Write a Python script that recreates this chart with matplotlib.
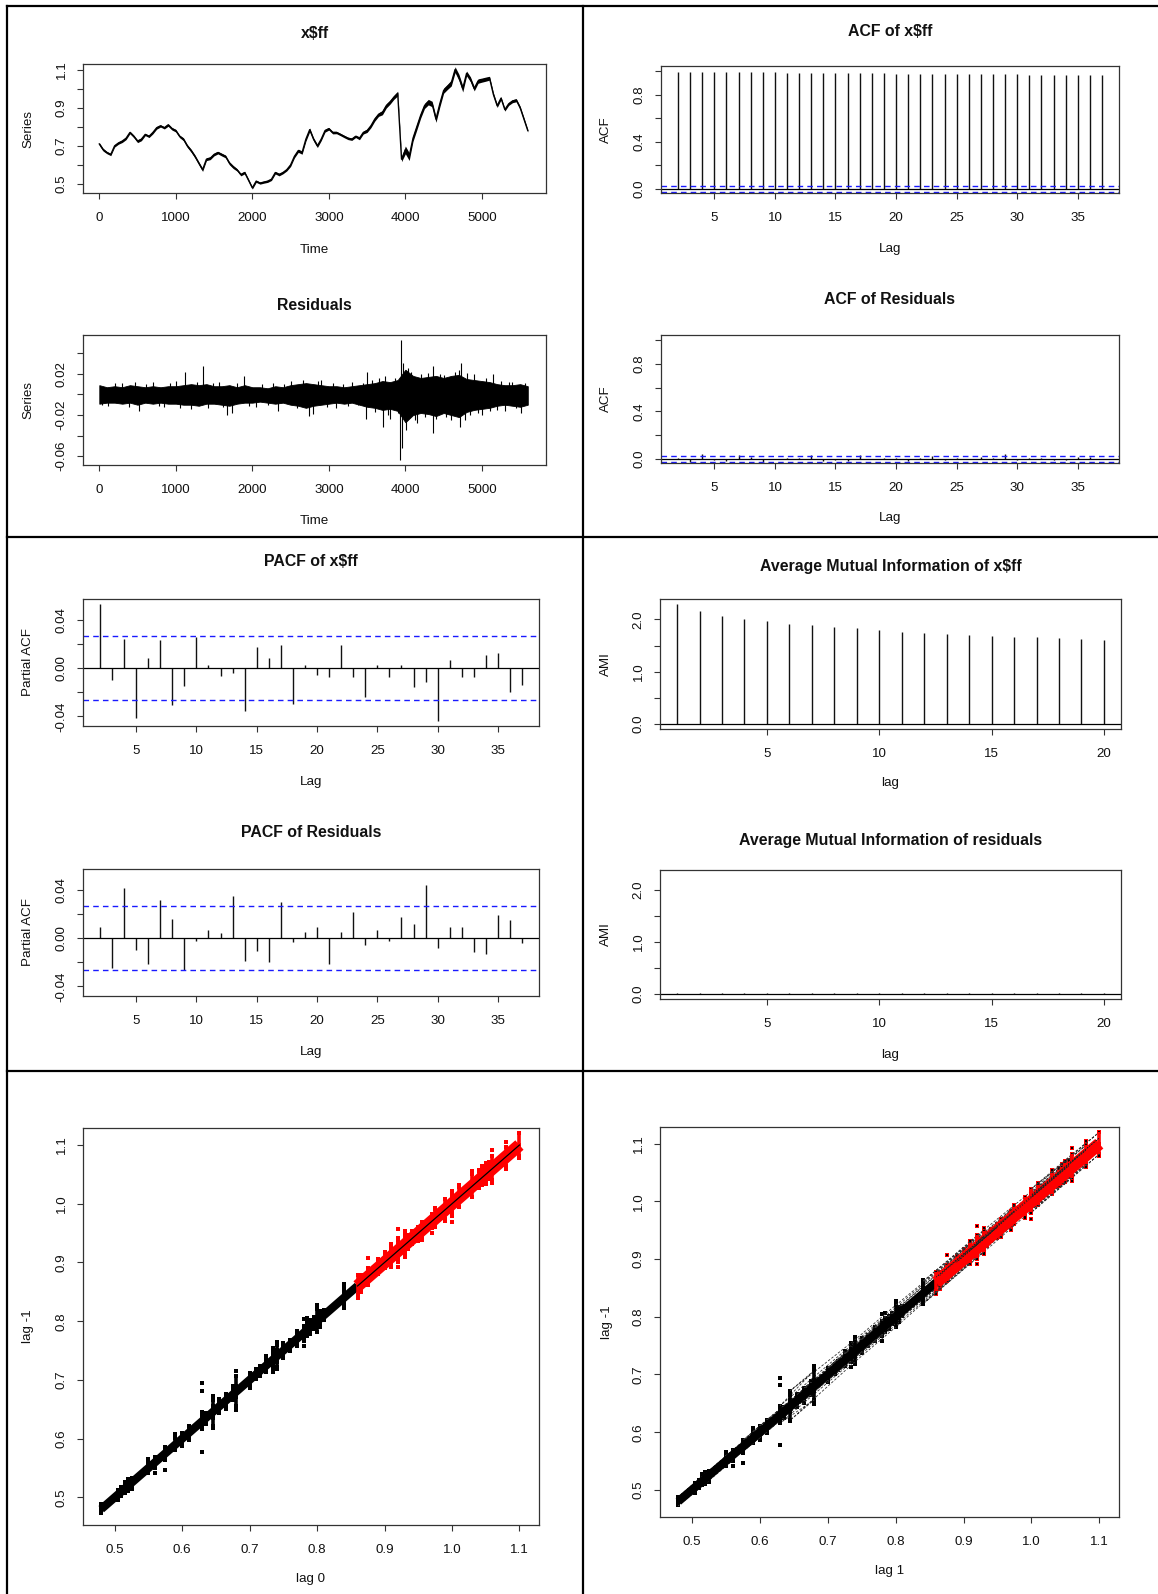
import numpy as np
import matplotlib
matplotlib.use('Agg')
import matplotlib.pyplot as plt
from matplotlib.lines import Line2D

plt.rcParams['font.family'] = ['Liberation Sans', 'DejaVu Sans']

# ---------------- data ----------------
# x$ff sampled every 50 time steps (t = 0 .. 5600)
ff = [0.71, 0.68, 0.665, 0.655, 0.70, 0.715, 0.725, 0.74, 0.77, 0.75,
      0.725, 0.735, 0.76, 0.75, 0.77, 0.795, 0.805, 0.795, 0.81, 0.79,
      0.78, 0.75, 0.735, 0.70, 0.675, 0.645, 0.61, 0.575, 0.63, 0.635,
      0.655, 0.665, 0.655, 0.645, 0.61, 0.59, 0.575, 0.55, 0.56, 0.52,
      0.48, 0.515, 0.505, 0.51, 0.515, 0.525, 0.56, 0.55, 0.56, 0.575,
      0.60, 0.645, 0.675, 0.665, 0.735, 0.785, 0.735, 0.70, 0.735, 0.78,
      0.79, 0.77, 0.77, 0.76, 0.75, 0.74, 0.735, 0.75, 0.74, 0.77,
      0.78, 0.805, 0.84, 0.865, 0.875, 0.91, 0.93, 0.955, 0.975, 0.63,
      0.68, 0.645, 0.74, 0.80, 0.86, 0.91, 0.93, 0.92, 0.84, 0.92,
      0.99, 1.01, 1.03, 1.10, 1.06, 1.00, 1.08, 1.05, 1.00, 1.04,
      1.045, 1.05, 1.055, 0.97, 0.91, 0.95, 0.89, 0.92, 0.935, 0.94,
      0.90, 0.84, 0.78]
ff_time = np.arange(0, 5601, 50)

# residual band (upper / lower envelope) every 100 time steps
res_time = np.arange(0, 5601, 100)
res_hi = [0.009, 0.007, 0.008, 0.007, 0.009, 0.008, 0.007, 0.008, 0.007, 0.008,
          0.008, 0.009, 0.010, 0.009, 0.010, 0.008, 0.008, 0.009, 0.007, 0.009,
          0.007, 0.007, 0.006, 0.008, 0.007, 0.009, 0.010, 0.011, 0.010, 0.009,
          0.008, 0.008, 0.007, 0.008, 0.009, 0.010, 0.011, 0.013, 0.012, 0.014,
          0.024, 0.018, 0.016, 0.017, 0.018, 0.016, 0.018, 0.019, 0.015, 0.014,
          0.013, 0.012, 0.010, 0.009, 0.009, 0.010, 0.008]
res_lo = [-0.009, -0.008, -0.008, -0.009, -0.008, -0.010, -0.008, -0.009, -0.008, -0.009,
          -0.009, -0.010, -0.010, -0.011, -0.009, -0.009, -0.010, -0.011, -0.009, -0.008,
          -0.008, -0.007, -0.008, -0.009, -0.008, -0.010, -0.011, -0.013, -0.011, -0.010,
          -0.009, -0.008, -0.009, -0.008, -0.010, -0.012, -0.013, -0.015, -0.014, -0.016,
          -0.027, -0.020, -0.018, -0.019, -0.021, -0.018, -0.020, -0.022, -0.017, -0.015,
          -0.014, -0.013, -0.011, -0.010, -0.011, -0.012, -0.010]

# individual residual spikes
spike_t = [40, 120, 210, 300, 390, 470, 522, 610, 700, 780,
           850, 930, 1000, 1060, 1122, 1200, 1280, 1351, 1420, 1490,
           1560, 1620, 1668, 1730, 1800, 1888, 1960, 2050, 2120, 2200,
           2270, 2330, 2420, 2500, 2580, 2660, 2741, 2790, 2860, 2900,
           2980, 3050, 3100, 3180, 3250, 3300, 3380, 3440, 3488, 3495,
           3560, 3600, 3650, 3707, 3730, 3770, 3800, 3860, 3900, 3927,
           3941, 3955, 3975, 4010, 4040, 4080, 4120, 4150, 4200, 4260,
           4300, 4356, 4360, 4400, 4450, 4500, 4537, 4600, 4650, 4700,
           4720, 4732, 4780, 4800, 4850, 4902, 4950, 5000, 5060, 5100,
           5146, 5200, 5250, 5300, 5350, 5400, 5450, 5512, 5560]
spike_v = [-0.010, -0.011, 0.011, 0.011, -0.012, 0.012, -0.016, 0.010, 0.012, -0.011,
           -0.012, 0.011, 0.013, -0.013, 0.0216, -0.014, 0.012, 0.028, -0.013, 0.011,
           0.012, -0.012, -0.020, -0.018, 0.011, 0.018, -0.011, -0.012, 0.010, -0.010,
           0.011, -0.016, 0.010, 0.013, -0.013, 0.014, -0.021, -0.019, 0.013, 0.014,
           -0.012, 0.011, -0.013, 0.010, -0.011, 0.012, -0.010, 0.011, -0.024, 0.022,
           0.014, -0.017, 0.016, -0.032, 0.018, -0.020, -0.024, 0.016, -0.018, -0.064,
           0.053, -0.052, 0.031, -0.035, 0.026, 0.022, -0.025, -0.028, 0.020, -0.022,
           0.021, 0.028, -0.037, -0.024, 0.020, 0.019, -0.022, -0.025, 0.022, 0.024,
           -0.032, 0.031, -0.025, 0.021, -0.020, 0.020, -0.018, -0.020, 0.016, -0.016,
           0.020, -0.015, 0.013, -0.016, 0.012, 0.012, -0.013, -0.018, 0.011]

acf_lags = list(range(2, 38))
acf_ff = [0.998, 0.997, 0.996, 0.995, 0.994, 0.993, 0.992, 0.991, 0.990, 0.989,
          0.988, 0.987, 0.986, 0.985, 0.984, 0.983, 0.982, 0.982, 0.981, 0.980,
          0.979, 0.978, 0.978, 0.977, 0.976, 0.975, 0.975, 0.974, 0.973, 0.972,
          0.972, 0.971, 0.970, 0.969, 0.969, 0.968]
acf_res = [0.009, -0.024, 0.042, -0.010, -0.021, 0.031, 0.015, -0.026, -0.002, 0.006,
           0.004, 0.035, -0.018, -0.010, -0.019, 0.030, -0.003, 0.005, 0.009, -0.021,
           0.005, 0.021, -0.006, 0.007, -0.002, 0.018, 0.011, 0.044, -0.008, 0.009,
           0.009, -0.011, -0.013, 0.019, 0.015, -0.004]
pacf_ff = [0.0537, -0.0099, 0.0244, -0.0414, 0.0085, 0.0238, -0.0307, -0.0145, 0.0260, 0.0025,
           -0.0066, -0.0036, -0.0353, 0.0180, 0.0082, 0.0195, -0.0299, 0.0025, -0.0055, -0.0077,
           0.0195, -0.0071, -0.0236, 0.0025, -0.0071, 0.0025, -0.0159, -0.0118, -0.0441, 0.0066,
           -0.0071, -0.0077, 0.0112, 0.0123, -0.0200, -0.0142]
pacf_res = [0.0092, -0.0246, 0.0419, -0.0097, -0.0214, 0.0314, 0.0157, -0.0262, -0.0019, 0.0065,
            0.0043, 0.0351, -0.0186, -0.0103, -0.0195, 0.0300, -0.0032, 0.0054, 0.0092, -0.0214,
            0.0051, 0.0216, -0.0057, 0.0070, -0.0019, 0.0178, 0.0116, 0.0443, -0.0078, 0.0097,
            0.0092, -0.0114, -0.0130, 0.0195, 0.0151, -0.0038]
ci = 0.0267

ami_lags = list(range(1, 21))
ami_ff = [2.295, 2.167, 2.070, 2.013, 1.968, 1.917, 1.891, 1.859, 1.827, 1.801,
          1.763, 1.744, 1.718, 1.699, 1.686, 1.667, 1.654, 1.641, 1.628, 1.609]
ami_res = [0.030, 0.027, 0.029, 0.026, 0.028, 0.030, 0.026, 0.028, 0.029, 0.027,
           0.028, 0.030, 0.026, 0.028, 0.029, 0.027, 0.028, 0.028, 0.026, 0.029]

red_threshold = 0.85

# ---------------- figure ----------------
W, H = 1158, 1594
fig = plt.figure(figsize=(W / 100, H / 100), dpi=100)
fig.patch.set_facecolor('white')

TXT = '#111111'
TICK = 9.6
TITLE = 11.4


def add_ax(l, t, r, b):
    return fig.add_axes([l / W, 1 - b / H, (r - l) / W, (b - t) / H])


def ftext(x, y, s, **kw):
    fig.text(x / W, 1 - y / H, s, ha='center', va='center', color=TXT, **kw)


def style(ax, xticks, xlabels, yticks, ylabels, xlim, ylim):
    ax.set_xlim(*xlim)
    ax.set_ylim(*ylim)
    ax.set_xticks(xticks)
    ax.set_xticklabels(xlabels)
    ax.set_yticks(yticks)
    ax.set_yticklabels(ylabels, rotation=90, va='center')
    for sp in ax.spines.values():
        sp.set_color('#333333')
        sp.set_linewidth(0.9)
    ax.tick_params(direction='out', length=4.3, width=0.8, color='#333333',
                   labelsize=TICK, labelcolor=TXT)
    ax.tick_params(axis='x', pad=9.5)
    ax.tick_params(axis='y', pad=6.8)


def panel_text(ax_box, title, xlabel, ylabel, ty, xy, yx):
    l, t, r, b = ax_box
    cx = (l + r) / 2
    ftext(cx, ty, title, fontsize=TITLE, fontweight='bold')
    ftext(cx, xy, xlabel, fontsize=TICK)
    ftext(yx, (t + b) / 2, ylabel, fontsize=TICK, rotation=90)


# panel borders
for (x0, y0, x1, y1) in [(7, 6, 1158, 6), (7, 537, 1158, 537), (7, 1071, 1158, 1071),
                         (7, 6, 7, 1594), (583, 6, 583, 1594)]:
    fig.add_artist(Line2D([x0 / W, x1 / W], [1 - y0 / H, 1 - y1 / H], color='black',
                          lw=1.6, transform=fig.transFigure))

ts_xt = [0, 1000, 2000, 3000, 4000, 5000]
ts_xl = [str(v) for v in ts_xt]
ts_xlim = (-213, 5838)

ffa = np.array(ff)
band_i = np.arange(len(ffa)) // 2
hi = np.array(res_hi)[band_i]
lo = np.array(res_lo)[band_i]

# ---- x$ff
box = (83, 64, 546, 193)
ax = add_ax(*box)
ax.fill_between(ff_time, ffa + lo * 0.8, ffa + hi * 0.8, color='black', lw=0)
ax.plot(ff_time, ff, color='black', lw=1.0)
style(ax, ts_xt, ts_xl, [0.5, 0.6, 0.7, 0.8, 0.9, 1.0, 1.1],
      ['0.5', '', '0.7', '', '0.9', '', '1.1'], ts_xlim, (0.453, 1.129))
panel_text(box, 'x$ff', 'Time', 'Series', 34, 250, 28)

# ---- Residuals
box = (83, 335, 546, 465)
ax = add_ax(*box)
ax.fill_between(res_time, res_lo, res_hi, color='black', lw=0.6)
ax.vlines(spike_t, 0, spike_v, color='black', lw=0.8)
style(ax, ts_xt, ts_xl, [-0.06, -0.04, -0.02, 0.0, 0.02, 0.04],
      ['-0.06', '', '-0.02', '', '0.02', ''], ts_xlim, (-0.0685, 0.0577))
panel_text(box, 'Residuals', 'Time', 'Series', 305, 521, 28)

lag_xt = [5, 10, 15, 20, 25, 30, 35]
lag_xl = [str(v) for v in lag_xt]
acf_yt = [0.0, 0.2, 0.4, 0.6, 0.8, 1.0]
acf_yl = ['0.0', '', '0.4', '', '0.8', '']


def acf_panel(box, vals, title, ty, xy):
    ax = add_ax(*box)
    ax.vlines(acf_lags, 0, vals, color='#111111', lw=1.0)
    ax.axhline(0, color='black', lw=0.9)
    ax.axhline(ci, color='#1a1aff', lw=1.0, ls=(0, (4, 3)))
    ax.axhline(-ci, color='#1a1aff', lw=1.0, ls=(0, (4, 3)))
    style(ax, lag_xt, lag_xl, acf_yt, acf_yl, (0.6, 38.4), (-0.035, 1.045))
    panel_text(box, title, 'Lag', 'ACF', ty, xy, 606)


acf_panel((661, 66, 1119, 193), acf_ff, 'ACF of x$ff', 31.5, 249)
acf_panel((661, 335, 1119, 463), acf_res, 'ACF of Residuals', 300, 518.5)


def pacf_panel(box, vals, title, ty, xy):
    ax = add_ax(*box)
    ax.vlines(acf_lags, 0, vals, color='#111111', lw=1.0)
    ax.axhline(0, color='black', lw=0.9)
    ax.axhline(ci, color='#1a1aff', lw=1.0, ls=(0, (4, 3)))
    ax.axhline(-ci, color='#1a1aff', lw=1.0, ls=(0, (4, 3)))
    style(ax, lag_xt, lag_xl, [-0.04, -0.02, 0.0, 0.02, 0.04],
          ['-0.04', '', '0.00', '', '0.04'], (0.6, 38.4), (-0.048, 0.0575))
    panel_text(box, title, 'Lag', 'Partial ACF', ty, xy, 28)


pacf_panel((83, 599, 539, 726), pacf_ff, 'PACF of x$ff', 562, 782)
pacf_panel((83, 869, 539, 996), pacf_res, 'PACF of Residuals', 833, 1052)


def ami_panel(box, vals, title, ty, xy):
    ax = add_ax(*box)
    ax.vlines(ami_lags, 0, vals, color='#111111', lw=1.0)
    ax.axhline(0, color='black', lw=0.9)
    style(ax, [5, 10, 15, 20], ['5', '10', '15', '20'],
          [0.0, 0.5, 1.0, 1.5, 2.0], ['0.0', '', '1.0', '', '2.0'],
          (0.24, 20.76), (-0.092, 2.387))
    panel_text(box, title, 'lag', 'AMI', ty, xy, 606)


ami_panel((660, 599, 1121, 729), ami_ff, 'Average Mutual Information of x$ff', 567, 783)
ami_panel((660, 870, 1121, 999), ami_res, 'Average Mutual Information of residuals', 840, 1055)

# ---- lag scatter plots
sp_i = np.clip(np.round(np.array(spike_t) / 50).astype(int), 0, len(ffa) - 1)
sp_x = ffa[sp_i]
pts_x = np.concatenate([ffa, ffa, ffa, sp_x])
pts_y = np.concatenate([ffa - hi, ffa, ffa - lo, sp_x - np.array(spike_v)])
is_red = pts_x >= red_threshold

xs = np.sort(ffa)
m_red = xs >= red_threshold
k0 = np.argmax(m_red)
m_blk = ~m_red
m_blk[k0] = True
seg_red = ffa >= red_threshold

sc_t = [0.5, 0.6, 0.7, 0.8, 0.9, 1.0, 1.1]
sc_l = ['0.5', '0.6', '0.7', '0.8', '0.9', '1.0', '1.1']
sc_lim = (0.453, 1.129)


def lag_panel(box, xlabel, xy, yx, overlay):
    ax = add_ax(*box)
    if overlay:
        ax.plot(ffa, ffa - lo, color='#333333', lw=0.6, ls=(0, (3, 2)))
        ax.plot(ffa, ffa - hi, color='#333333', lw=0.6, ls=(0, (3, 2)))
    ax.plot(xs[m_blk], xs[m_blk], color='black', lw=6.0, solid_capstyle='butt')
    ax.plot(xs[m_red], xs[m_red], color='red', lw=9.0, solid_capstyle='butt')
    ax.vlines(ffa[~seg_red], ffa[~seg_red] - hi[~seg_red], ffa[~seg_red] - lo[~seg_red],
              color='black', lw=2.6)
    ax.vlines(ffa[seg_red], ffa[seg_red] - hi[seg_red], ffa[seg_red] - lo[seg_red],
              color='red', lw=2.6)
    ax.scatter(pts_x[~is_red], pts_y[~is_red], marker='s', s=7, c='black', linewidths=0)
    ax.scatter(pts_x[is_red], pts_y[is_red], marker='s', s=7, c='red', linewidths=0)
    if overlay:
        ax.scatter(pts_x[is_red], pts_y[is_red], marker='s', s=1.5, c='black', linewidths=0)
        ax.plot(ffa[seg_red], ffa[seg_red] - lo[seg_red] * 0.5, color='#222222', lw=0.5,
                ls=(0, (2, 2)))
    else:
        ax.plot(xs[m_red], xs[m_red], color='black', lw=0.9)
    style(ax, sc_t, sc_l, sc_t, sc_l, sc_lim, sc_lim)
    l, t, r, b = box
    ftext((l + r) / 2, xy, xlabel, fontsize=TICK)
    ftext(yx, (t + b) / 2, 'lag -1', fontsize=TICK, rotation=90)


lag_panel((83, 1128, 539, 1525), 'lag 0', 1579, 28, False)
lag_panel((660, 1127, 1119, 1517), 'lag 1', 1571, 607, True)

fig.savefig('out.png', dpi=100, facecolor='white')
